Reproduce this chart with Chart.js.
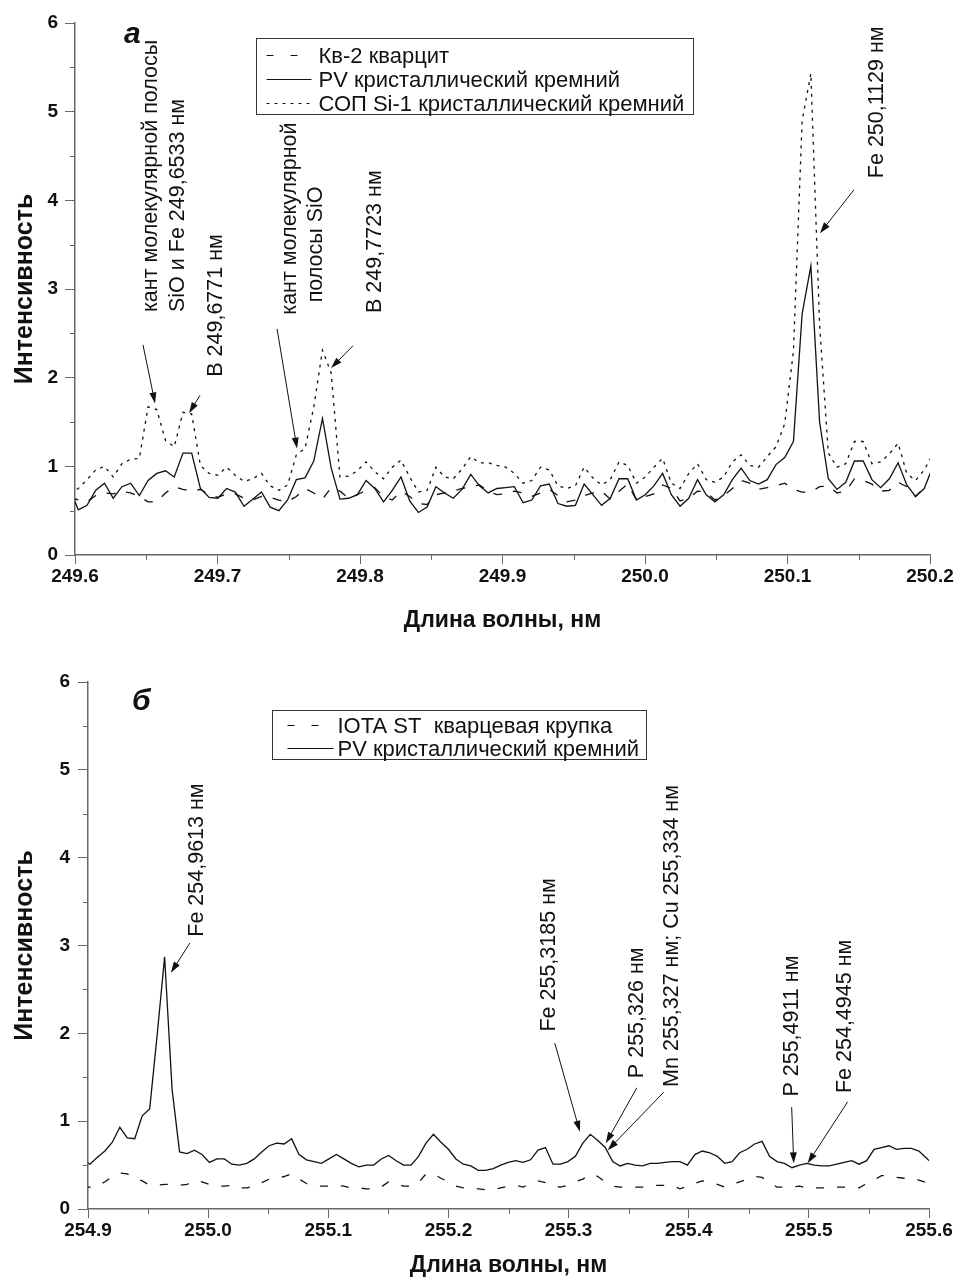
<!DOCTYPE html>
<html lang="ru">
<head>
<meta charset="utf-8">
<script src="https://cdn.jsdelivr.net/npm/chart.js@4.4.0/dist/chart.umd.min.js"></script>
<style>
  body { margin: 0; background: #fff; }
  canvas { display: block; }
</style>
</head>
<body>
<canvas id="chartA" width="958" height="640"></canvas>
<canvas id="chartB" width="958" height="642"></canvas>
<script>
// panel a: sampling grid of the spectrometer (nm) and intensities
const gridA = { start: 249.5962, step: 0.00612 };
const kv2Quartzite = [
  0.65, 0.62, 0.60, 0.67, 0.70, 0.69, 0.72, 0.70, 0.66, 0.60,
  0.60, 0.70, 0.77, 0.74, 0.72, 0.74, 0.68, 0.65, 0.69, 0.69,
  0.64, 0.62, 0.66, 0.65, 0.62, 0.60, 0.66, 0.75, 0.70, 0.63,
  0.76, 0.72, 0.64, 0.68, 0.73, 0.76, 0.66, 0.62, 0.72, 0.66,
  0.58, 0.57, 0.68, 0.70, 0.72, 0.75, 0.77, 0.79, 0.72, 0.68,
  0.69, 0.72, 0.70, 0.66, 0.70, 0.74, 0.67, 0.60, 0.62, 0.67,
  0.70, 0.72, 0.63, 0.72, 0.80, 0.62, 0.66, 0.69, 0.79, 0.75,
  0.61, 0.64, 0.72, 0.71, 0.62, 0.67, 0.75, 0.84, 0.81, 0.74,
  0.76, 0.78, 0.81, 0.74, 0.71, 0.71, 0.77, 0.78, 0.70, 0.72,
  0.86, 0.84, 0.80, 0.72, 0.73, 0.82, 0.77, 0.66, 0.76, 0.77
];
const pvSiliconA = [
  0.75, 0.51, 0.56, 0.73, 0.81, 0.64, 0.77, 0.81, 0.67, 0.84,
  0.92, 0.95, 0.88, 1.15, 1.15, 0.75, 0.65, 0.64, 0.75, 0.71,
  0.55, 0.63, 0.71, 0.54, 0.50, 0.62, 0.85, 0.87, 1.06, 1.54,
  0.98, 0.63, 0.64, 0.68, 0.84, 0.75, 0.60, 0.73, 0.88, 0.61,
  0.48, 0.54, 0.77, 0.70, 0.64, 0.74, 0.91, 0.78, 0.70, 0.75,
  0.76, 0.77, 0.59, 0.62, 0.78, 0.80, 0.58, 0.55, 0.56, 0.80,
  0.68, 0.56, 0.64, 0.86, 0.86, 0.62, 0.68, 0.78, 0.92, 0.68,
  0.55, 0.64, 0.85, 0.68, 0.60, 0.68, 0.85, 0.98, 0.84, 0.80,
  0.85, 1.02, 1.10, 1.28, 2.72, 3.26, 1.50, 0.86, 0.74, 0.82,
  1.06, 1.06, 0.85, 0.76, 0.86, 1.04, 0.79, 0.66, 0.75, 1.00
];
const sopSiliconA = [
  0.70, 0.75, 0.85, 0.96, 1.00, 0.88, 1.03, 1.08, 1.09, 1.67,
  1.64, 1.29, 1.22, 1.61, 1.59, 1.01, 0.92, 0.90, 0.99, 0.90,
  0.83, 0.86, 0.92, 0.78, 0.73, 0.79, 1.13, 1.20, 1.67, 2.31,
  2.05, 0.88, 0.89, 0.95, 1.05, 0.94, 0.86, 0.99, 1.07, 0.88,
  0.71, 0.73, 0.99, 0.88, 0.86, 0.97, 1.11, 1.04, 1.04, 1.01,
  0.99, 0.92, 0.81, 0.84, 0.99, 0.96, 0.78, 0.75, 0.78, 0.99,
  0.87, 0.79, 0.85, 1.05, 1.01, 0.81, 0.88, 0.99, 1.09, 0.81,
  0.75, 0.92, 1.03, 0.85, 0.82, 0.88, 1.05, 1.13, 1.01, 0.99,
  1.11, 1.22, 1.48, 2.30, 4.90, 5.43, 2.60, 1.15, 0.99, 1.03,
  1.28, 1.28, 1.03, 1.05, 1.14, 1.26, 0.92, 0.84, 0.96, 1.14
];

// panel b
const gridB = { start: 254.8954, step: 0.006216 };
const iotaQuartz = [
  0.25, 0.25, 0.26, 0.31, 0.37, 0.41, 0.40, 0.35, 0.32, 0.27,
  0.27, 0.28, 0.28, 0.27, 0.28, 0.32, 0.31, 0.28, 0.26, 0.26,
  0.27, 0.24, 0.24, 0.26, 0.30, 0.34, 0.35, 0.37, 0.40, 0.34,
  0.29, 0.26, 0.26, 0.26, 0.27, 0.26, 0.24, 0.24, 0.23, 0.23,
  0.25, 0.31, 0.29, 0.26, 0.26, 0.30, 0.40, 0.40, 0.35, 0.31,
  0.26, 0.24, 0.24, 0.23, 0.22, 0.22, 0.24, 0.26, 0.27, 0.25,
  0.29, 0.32, 0.30, 0.26, 0.25, 0.27, 0.31, 0.34, 0.40, 0.37,
  0.31, 0.26, 0.25, 0.25, 0.25, 0.25, 0.26, 0.27, 0.27, 0.27,
  0.23, 0.26, 0.29, 0.32, 0.31, 0.28, 0.25, 0.28, 0.31, 0.34,
  0.37, 0.36, 0.30, 0.25, 0.25, 0.25, 0.26, 0.24, 0.24, 0.24,
  0.24, 0.25, 0.25, 0.24, 0.24, 0.29, 0.33, 0.38, 0.38, 0.36,
  0.35, 0.35, 0.33, 0.30, 0.26
];
const pvSiliconB = [
  0.56, 0.51, 0.59, 0.66, 0.76, 0.93, 0.81, 0.80, 1.06, 1.14,
  1.98, 2.87, 1.36, 0.65, 0.63, 0.67, 0.62, 0.53, 0.57, 0.57,
  0.51, 0.50, 0.52, 0.57, 0.65, 0.72, 0.75, 0.74, 0.80, 0.62,
  0.56, 0.54, 0.52, 0.57, 0.62, 0.57, 0.52, 0.48, 0.50, 0.50,
  0.57, 0.61, 0.55, 0.50, 0.50, 0.60, 0.75, 0.85, 0.76, 0.68,
  0.57, 0.51, 0.49, 0.44, 0.44, 0.46, 0.50, 0.53, 0.55, 0.53,
  0.56, 0.67, 0.70, 0.51, 0.51, 0.54, 0.60, 0.75, 0.85, 0.78,
  0.70, 0.54, 0.49, 0.52, 0.50, 0.49, 0.52, 0.52, 0.53, 0.54,
  0.54, 0.50, 0.62, 0.66, 0.64, 0.60, 0.52, 0.54, 0.64, 0.68,
  0.74, 0.77, 0.60, 0.54, 0.52, 0.47, 0.50, 0.52, 0.50, 0.49,
  0.49, 0.51, 0.53, 0.55, 0.51, 0.55, 0.68, 0.70, 0.72, 0.68,
  0.69, 0.69, 0.66, 0.58, 0.50
];

const FONT = '"Liberation Sans", Arial, Helvetica, sans-serif';
const INK = "#111";
const AXIS = "#666";

const toPoints = (grid, values) =>
  values.map((v, i) => ({ x: grid.start + grid.step * i, y: v }));

function lineSet(label, grid, values, dash, legendDash) {
  return {
    label: label,
    data: toPoints(grid, values),
    borderColor: INK,
    borderWidth: 1.3,
    borderDash: dash,
    legendDash: legendDash,
    pointRadius: 0,
    tension: 0,
    fill: false,
  };
}

function drawArrow(ctx, x1, y1, x2, y2) {
  const a = Math.atan2(y2 - y1, x2 - x1);
  const len = 11;
  const half = 3.5;
  const c = Math.cos(a);
  const s = Math.sin(a);
  ctx.beginPath();
  ctx.moveTo(x1, y1);
  ctx.lineTo(x2 - c * len * 0.7, y2 - s * len * 0.7);
  ctx.stroke();
  ctx.beginPath();
  ctx.moveTo(x2, y2);
  ctx.lineTo(x2 - c * len + s * half, y2 - s * len - c * half);
  ctx.lineTo(x2 - c * len - s * half, y2 - s * len + c * half);
  ctx.closePath();
  ctx.fill();
}

// minor ticks, panel letter, framed legend, rotated line labels and arrows
const notesPlugin = {
  id: "notes",
  afterDraw(chart, args, opts) {
    const { ctx, chartArea } = chart;
    const sx = chart.scales.x;
    const sy = chart.scales.y;
    const px = (v) => sx.getPixelForValue(v);
    const py = (v) => sy.getPixelForValue(v);
    ctx.save();

    ctx.strokeStyle = AXIS;
    ctx.lineWidth = 1;
    const xt = sx.ticks.map((t) => t.value);
    for (let i = 0; i < xt.length - 1; i++) {
      const x = Math.round(px((xt[i] + xt[i + 1]) / 2)) + 0.5;
      ctx.beginPath();
      ctx.moveTo(x, chartArea.bottom);
      ctx.lineTo(x, chartArea.bottom + 5);
      ctx.stroke();
    }
    const yt = sy.ticks.map((t) => t.value);
    for (let i = 0; i < yt.length - 1; i++) {
      const y = Math.round(py((yt[i] + yt[i + 1]) / 2)) + 0.5;
      ctx.beginPath();
      ctx.moveTo(chartArea.left, y);
      ctx.lineTo(chartArea.left - 5, y);
      ctx.stroke();
    }

    ctx.fillStyle = INK;
    ctx.font = "italic bold 30px " + FONT;
    ctx.textAlign = "left";
    ctx.textBaseline = "alphabetic";
    ctx.fillText(opts.panel.text, px(opts.panel.at[0]), py(opts.panel.at[1]));

    // legend
    const lg = opts.legend;
    ctx.font = "22px " + FONT;
    const sets = chart.data.datasets;
    const maxW = Math.max(...sets.map((d) => ctx.measureText(d.label).width));
    const bx = Math.round(px(lg.at[0])) + 0.5;
    const by = Math.round(py(lg.at[1])) + 0.5;
    const bw = Math.round(lg.textLeft + maxW + lg.padRight);
    const bh = lg.firstRow + lg.rowH * (sets.length - 1) + lg.padBottom;
    ctx.strokeStyle = "#333";
    ctx.lineWidth = 1;
    ctx.strokeRect(bx, by, bw, bh);
    ctx.textBaseline = "middle";
    sets.forEach((d, i) => {
      const ry = by + lg.firstRow + lg.rowH * i;
      ctx.save();
      ctx.setLineDash(d.legendDash || d.borderDash || []);
      ctx.lineWidth = 1.2;
      ctx.strokeStyle = INK;
      ctx.beginPath();
      ctx.moveTo(bx + lg.sample[0], ry);
      ctx.lineTo(bx + lg.sample[1], ry);
      ctx.stroke();
      ctx.restore();
      ctx.fillText(d.label, bx + lg.textLeft, ry + 1);
    });

    // rotated labels, read bottom to top
    ctx.font = "21.5px " + FONT;
    ctx.textBaseline = "middle";
    opts.labels.forEach((n) => {
      ctx.save();
      ctx.translate(px(n.at[0]), py(n.at[1]));
      ctx.rotate(-Math.PI / 2);
      ctx.fillText(n.text, 0, 0);
      ctx.restore();
    });

    ctx.strokeStyle = INK;
    ctx.fillStyle = INK;
    ctx.lineWidth = 1;
    opts.arrows.forEach((a) => {
      drawArrow(ctx, px(a.from[0]), py(a.from[1]), px(a.to[0]), py(a.to[1]));
    });

    ctx.restore();
  },
};

function makeOptions(cfg) {
  const tickFont = { family: FONT, size: 19, weight: "bold" };
  return {
    responsive: false,
    animation: false,
    layout: { padding: { top: cfg.top, right: cfg.right, left: 0, bottom: 0 } },
    plugins: {
      legend: { display: false },
      tooltip: { enabled: false },
      notes: cfg.notes,
    },
    scales: {
      x: {
        type: "linear",
        min: cfg.xMin,
        max: cfg.xMax,
        afterFit: (s) => { s.height = cfg.xHeight; },
        ticks: {
          stepSize: 0.1,
          autoSkip: false,
          maxRotation: 0,
          padding: 1,
          color: INK,
          font: tickFont,
          callback: (v) => Number(v).toFixed(1),
        },
        grid: { drawOnChartArea: false, tickLength: 9, color: AXIS },
        border: { color: AXIS, width: 1.5 },
        title: {
          display: true,
          text: "Длина волны, нм",
          color: INK,
          font: { family: FONT, size: 23, weight: "bold" },
          padding: { top: 0, bottom: cfg.xTitlePad },
        },
      },
      y: {
        min: 0,
        max: 6,
        afterFit: (s) => { s.width = cfg.yWidth; },
        ticks: { stepSize: 1, padding: cfg.yTickPad, color: INK, font: tickFont },
        grid: { drawOnChartArea: false, tickLength: 10, color: AXIS },
        border: { color: AXIS, width: 1.5 },
        title: {
          display: true,
          text: "Интенсивность",
          color: INK,
          font: { family: FONT, size: 25, weight: "bold" },
          padding: { top: 10, bottom: 0 },
        },
      },
    },
  };
}

new Chart(document.getElementById("chartA"), {
  type: "line",
  data: {
    datasets: [
      lineSet("Кв-2 кварцит", gridA, kv2Quartzite, [9, 11], [7, 17]),
      lineSet("PV кристаллический кремний", gridA, pvSiliconA, []),
      lineSet("СОП Si-1 кристаллический кремний", gridA, sopSiliconA, [3, 5]),
    ],
  },
  options: makeOptions({
    xMin: 249.6, xMax: 250.2, top: 23, right: 28,
    xHeight: 85, yWidth: 75, xTitlePad: 6, yTickPad: 7,
    notes: {
      panel: { text: "а", at: [249.6344, 5.77] },
      legend: { at: [249.727, 5.83], sample: [10, 55], textLeft: 62, padRight: 9,
                firstRow: 17, rowH: 24, padBottom: 11 },
      labels: [
        { text: "кант молекулярной полосы", at: [249.6533, 2.74] },
        { text: "SiO и Fe 249,6533 нм", at: [249.6723, 2.74] },
        { text: "B 249,6771 нм", at: [249.699, 2.01] },
        { text: "кант молекулярной", at: [249.7509, 2.71] },
        { text: "полосы SiO", at: [249.7691, 2.85] },
        { text: "B 249,7723 нм", at: [249.8105, 2.73] },
        { text: "Fe 250,1129 нм", at: [250.163, 4.25] },
      ],
      arrows: [
        { from: [249.6477, 2.37], to: [249.6562, 1.71] },
        { from: [249.6877, 1.80], to: [249.68, 1.60] },
        { from: [249.7418, 2.55], to: [249.7558, 1.20] },
        { from: [249.7951, 2.36], to: [249.7797, 2.11] },
        { from: [250.1467, 4.12], to: [250.1228, 3.63] },
      ],
    },
  }),
  plugins: [notesPlugin],
});

new Chart(document.getElementById("chartB"), {
  type: "line",
  data: {
    datasets: [
      lineSet("IOTA ST  кварцевая крупка", gridB, iotaQuartz, [8, 13], [7, 17]),
      lineSet("PV кристаллический кремний", gridB, pvSiliconB, []),
    ],
  },
  options: makeOptions({
    xMin: 254.9, xMax: 255.6, top: 42, right: 29,
    xHeight: 73, yWidth: 88, xTitlePad: 3, yTickPad: 8,
    notes: {
      panel: { text: "б", at: [254.9366, 5.68] },
      legend: { at: [255.053, 5.68], sample: [15, 61], textLeft: 65, padRight: 7,
                firstRow: 15, rowH: 23, padBottom: 11 },
      labels: [
        { text: "Fe 254,9613 нм", at: [254.9907, 3.10] },
        { text: "Fe 255,3185 нм", at: [255.2836, 2.02] },
        { text: "P 255,326 нм", at: [255.3568, 1.49] },
        { text: "Mn 255,327 нм; Cu 255,334 нм", at: [255.3859, 1.39] },
        { text: "P 255,4911 нм", at: [255.4857, 1.28] },
        { text: "Fe 254,4945 нм", at: [255.5298, 1.32] },
      ],
      arrows: [
        { from: [254.9849, 3.03], to: [254.969, 2.69] },
        { from: [255.2885, 1.89], to: [255.3094, 0.88] },
        { from: [255.3568, 1.38], to: [255.331, 0.75] },
        { from: [255.3792, 1.33], to: [255.3326, 0.67] },
        { from: [255.4857, 1.16], to: [255.4874, 0.52] },
        { from: [255.5323, 1.22], to: [255.499, 0.52] },
      ],
    },
  }),
  plugins: [notesPlugin],
});
</script>
</body>
</html>
